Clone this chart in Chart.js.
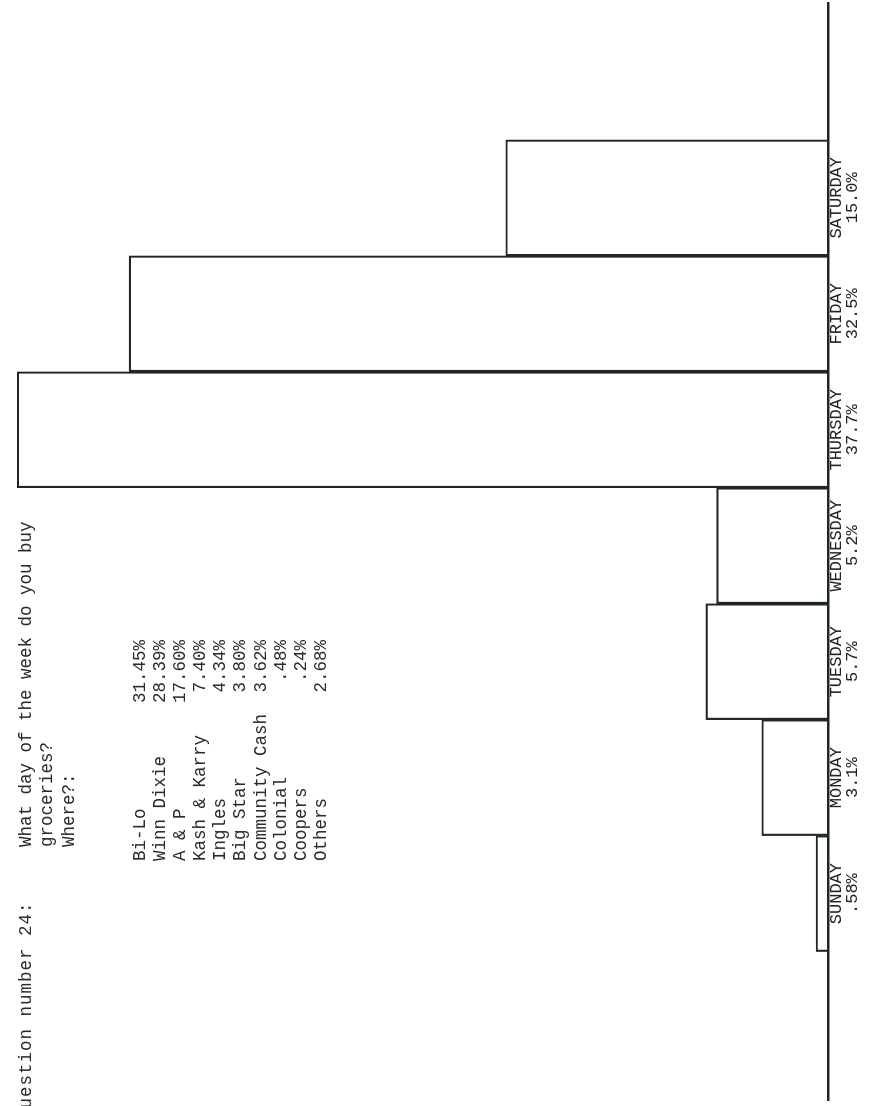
<!DOCTYPE html>
<html>
<head>
<meta charset="utf-8">
<title>Question number 24</title>
<script src="https://cdn.jsdelivr.net/npm/chart.js@4.4.1/dist/chart.umd.min.js"></script>
<style>
  html, body { margin: 0; padding: 0; background: #fff; overflow: hidden; }
  body { width: 871px; height: 1106px; position: relative; }
  /* the scanned page is turned a quarter turn, so the sheet is laid out upright and rotated */
  #page {
    position: absolute; left: 0; top: 0;
    width: 1106px; height: 871px;
    transform-origin: 0 0;
    transform: translate(0, 1106px) rotate(-90deg);
    font-family: "Liberation Mono", "DejaVu Sans Mono", monospace;
    font-size: 17.5px; color: #2b2b2b;
  }
  #page canvas { position: absolute; left: 0; top: 0; }
  .note { position: absolute; white-space: pre; line-height: 20px; }
  #storeNames, #storeShares { position: absolute; top: 130px; line-height: 20.1px; white-space: pre; }
  #storeNames { left: 245px; }
  #storeShares { left: 366px; width: 100px; text-align: right; }
</style>
</head>
<body>
<div id="page">
  <canvas id="chart" width="1106" height="871"></canvas>
  <div class="note" style="left:-14px; top:16px; letter-spacing:1px;">Question number 24:</div>
  <div class="note" style="left:259px; top:16px;">What day of the week do you buy</div>
  <div class="note" style="left:259px; top:37px;">groceries?</div>
  <div class="note" style="left:259px; top:59px;">Where?:</div>
  <div id="storeNames"></div>
  <div id="storeShares"></div>
</div>
<script>
const days = ["SUNDAY", "MONDAY", "TUESDAY", "WEDNESDAY", "THURSDAY", "FRIDAY", "SATURDAY"];
const dayShares = [0.58, 3.1, 5.7, 5.2, 37.7, 32.5, 15.0];
const dayShareLabels = [".58%", "3.1%", "5.7%", "5.2%", "37.7%", "32.5%", "15.0%"];

const storeNames = ["Bi-Lo", "Winn Dixie", "A & P", "Kash & Karry", "Ingles",
  "Big Star", "Community Cash", "Colonial", "Coopers", "Others"];
const storeShares = ["31.45%", "28.39%", "17.60%", "7.40%", "4.34%",
  "3.80%", "3.62%", ".48%", ".24%", "2.68%"];

document.getElementById("storeNames").textContent = storeNames.join("\n");
document.getElementById("storeShares").textContent = storeShares.join("\n");

const ink = "#1f2725";

new Chart(document.getElementById("chart"), {
  type: "bar",
  data: {
    datasets: [
      {
        data: dayShares.map((v, i) => ({ x: i, y: v })),
        backgroundColor: "rgba(255, 255, 255, 0)",
        borderColor: ink,
        borderWidth: 1.5,
        barPercentage: 1,
        categoryPercentage: 1,
      },
    ],
  },
  options: {
    responsive: false,
    animation: false,
    layout: { padding: { left: 6, right: 3, top: 0, bottom: 0 } },
    plugins: {
      legend: { display: false },
      tooltip: { enabled: false },
    },
    scales: {
      x: {
        type: "linear",
        offset: false,
        min: -1.78,
        max: 7.68,
        grid: { display: false, drawTicks: false },
        border: { display: true, color: ink, width: 2.5 },
        afterBuildTicks: (scale) => {
          scale.ticks = days.map((d, i) => ({ value: i }));
        },
        afterFit: (scale) => {
          scale.height = 42.5;
        },
        ticks: {
          padding: 0,
          color: "#222",
          autoSkip: false,
          maxRotation: 0,
          font: { family: "Liberation Mono", size: 17, lineHeight: 0.95 },
          callback: (v) => [days[v], dayShareLabels[v]],
        },
      },
      y: {
        display: false,
        min: 0,
        max: 38.5,
      },
    },
  },
});
</script>
</body>
</html>
